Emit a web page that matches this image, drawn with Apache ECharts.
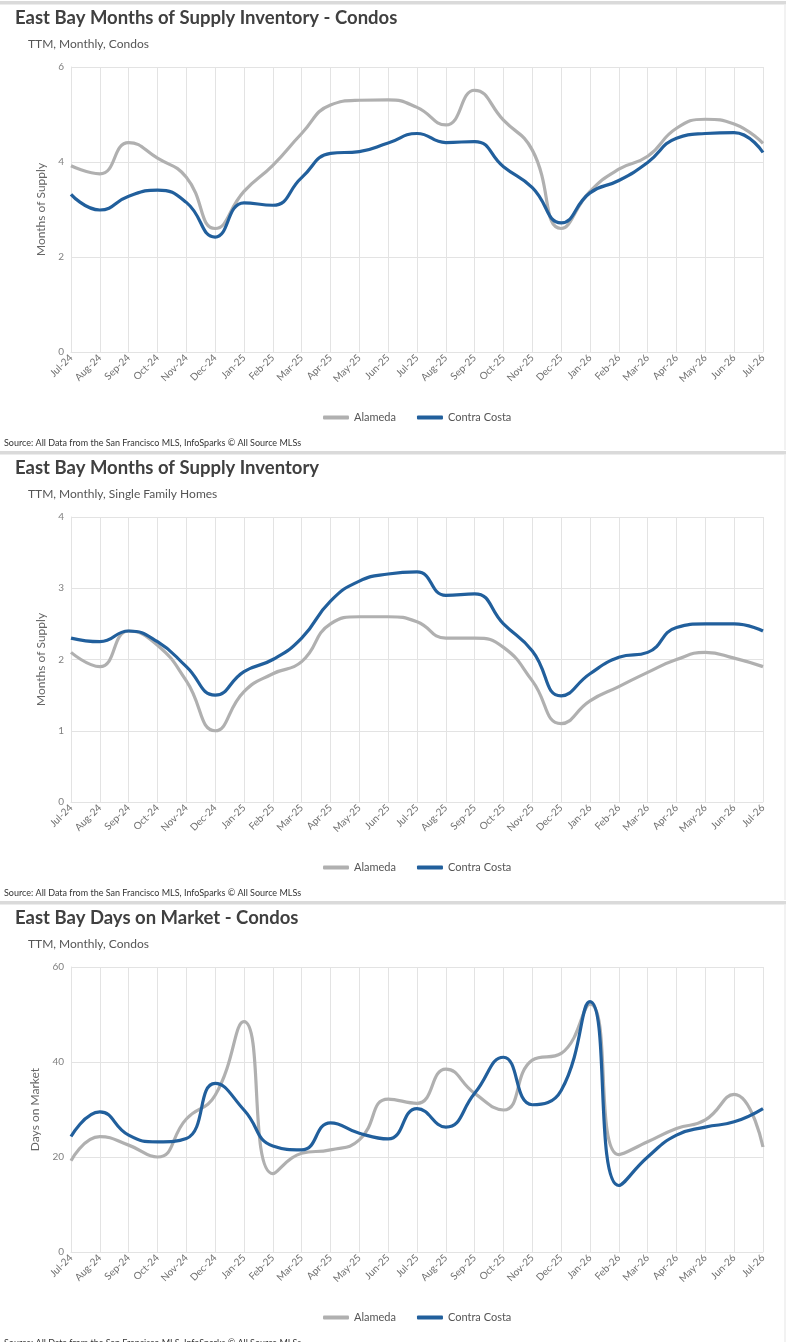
<!DOCTYPE html>
<html>
<head>
<meta charset="utf-8">
<script src="https://cdn.jsdelivr.net/npm/echarts@6/dist/echarts.min.js"></script>
<style>
  html, body { margin: 0; padding: 0; background: #fff; width: 786px; height: 1342px; overflow: hidden; }
  .panel { position: absolute; left: 0; width: 786px; height: 450px; }
</style>
</head>
<body>
<div id="c1" class="panel" style="top:0px"></div>
<div id="c2" class="panel" style="top:450px"></div>
<div id="c3" class="panel" style="top:900px"></div>
<script>
// ---- Data ----
const months = ['Jul-24','Aug-24','Sep-24','Oct-24','Nov-24','Dec-24','Jan-25','Feb-25','Mar-25','Apr-25','May-25','Jun-25','Jul-25','Aug-25','Sep-25','Oct-25','Nov-25','Dec-25','Jan-26','Feb-26','Mar-26','Apr-26','May-26','Jun-26','Jul-26'];
const seriesNames = ['Alameda', 'Contra Costa'];

const condoSupplyAlameda = [3.92, 3.75, 4.41, 4.08, 3.68, 2.6, 3.38, 3.93, 4.6, 5.2, 5.3, 5.31, 5.15, 4.78, 5.51, 4.88, 4.25, 2.6, 3.38, 3.85, 4.12, 4.71, 4.9, 4.8, 4.39];
const condoSupplyContraCosta = [3.32, 2.99, 3.28, 3.41, 3.15, 2.42, 3.14, 3.09, 3.67, 4.18, 4.22, 4.4, 4.6, 4.41, 4.43, 3.9, 3.46, 2.72, 3.35, 3.61, 3.99, 4.5, 4.6, 4.62, 4.2];

const sfhSupplyAlameda = [2.1, 1.9, 2.4, 2.2, 1.7, 1.0, 1.55, 1.8, 1.97, 2.5, 2.6, 2.6, 2.53, 2.3, 2.3, 2.17, 1.7, 1.1, 1.42, 1.62, 1.82, 2.0, 2.1, 2.02, 1.9];
const sfhSupplyContraCosta = [2.3, 2.25, 2.4, 2.25, 1.9, 1.5, 1.83, 2.0, 2.3, 2.82, 3.1, 3.2, 3.23, 2.9, 2.92, 2.5, 2.12, 1.49, 1.8, 2.03, 2.1, 2.45, 2.5, 2.5, 2.4];

const condoDomAlameda = [19.2, 24.3, 22.5, 20, 28, 33, 48.5, 16.5, 20.8, 21.5, 23.6, 32.2, 31.3, 38.5, 33.4, 29.9, 40.4, 41.8, 52.2, 20.5, 23.2, 26, 27.8, 33.2, 22.1];
const condoDomContraCosta = [24.3, 29.5, 24.6, 23.2, 23.9, 35.5, 29.9, 22.3, 21.5, 27.2, 25, 23.8, 30.2, 26.3, 33.4, 41, 31, 34, 52.7, 14, 20, 24.6, 26.3, 27.4, 30.2];

const titles = ['East Bay Months of Supply Inventory - Condos', 'East Bay Months of Supply Inventory', 'East Bay Days on Market - Condos'];
const subtitles = ['TTM, Monthly, Condos', 'TTM, Monthly, Single Family Homes', 'TTM, Monthly, Condos'];
const yNames = ['Months of Supply', 'Months of Supply', 'Days on Market'];
const yMax = [6, 4, 60];
const yInterval = [2, 1, 20];
const sourceText = 'Source: All Data from the San Francisco MLS, InfoSparks \u00A9 All Source MLSs';

// ---- Style ----
const FONT = 'Lato, "Open Sans", sans-serif';
const GRAY = '#b0b0b0';
const BLUE = '#215f9c';
const GRID = '#e3e3e3';

function build(idx, a, c) {
  return {
    animation: false,
    textStyle: { fontFamily: FONT },
    graphic: [
      { type: 'rect', left: 0, top: 1, shape: { width: 786, height: 3.5 }, style: { fill: '#dadada' } },
      { type: 'rect', left: 784, top: 5, shape: { width: 2, height: 445 }, style: { fill: '#f2f2f2' } },
      { type: 'text', left: 4, top: 439, style: { text: sourceText, fill: '#333', font: '9px ' + FONT } }
    ],
    title: [
      { text: titles[idx], left: 10, top: 4, textStyle: { fontSize: 18.5, fontWeight: 'bold', color: '#404040', fontFamily: FONT } },
      { text: subtitles[idx], left: 23, top: 33, textStyle: { fontSize: 12, fontWeight: 'normal', color: '#555', fontFamily: FONT } }
    ],
    legend: {
      data: seriesNames,
      left: 318, top: 407,
      itemWidth: 26, itemHeight: 4, itemGap: 21,
      icon: 'roundRect',
      textStyle: { fontSize: 11, color: '#555', fontFamily: FONT }
    },
    grid: { left: 71, right: 23, top: 67, height: 285 },
    xAxis: {
      type: 'category',
      data: months,
      boundaryGap: false,
      axisLine: { show: true, lineStyle: { color: GRID } },
      axisTick: { show: false },
      splitLine: { show: true, lineStyle: { color: GRID, width: 1 } },
      axisLabel: { rotate: 45, fontSize: 10, color: '#707070', margin: 4, interval: 0, fontFamily: FONT }
    },
    yAxis: {
      type: 'value',
      min: 0, max: yMax[idx], interval: yInterval[idx],
      name: yNames[idx], nameLocation: 'middle', nameGap: 18,
      nameTextStyle: { fontSize: 12, color: '#666', fontFamily: FONT },
      axisLine: { show: true, lineStyle: { color: GRID } },
      axisTick: { show: false },
      splitLine: { show: true, lineStyle: { color: GRID, width: 1 } },
      axisLabel: { fontSize: 10, color: '#808080', margin: 7, fontFamily: FONT }
    },
    series: [
      { name: seriesNames[0], type: 'line', data: a, smooth: 0.5, showSymbol: false, symbol: 'none',
        lineStyle: { color: GRAY, width: 3.2 }, itemStyle: { color: GRAY } },
      { name: seriesNames[1], type: 'line', data: c, smooth: 0.5, showSymbol: false, symbol: 'none',
        lineStyle: { color: BLUE, width: 3.2 }, itemStyle: { color: BLUE } }
    ]
  };
}

const pairs = [
  [condoSupplyAlameda, condoSupplyContraCosta],
  [sfhSupplyAlameda, sfhSupplyContraCosta],
  [condoDomAlameda, condoDomContraCosta]
];
['c1', 'c2', 'c3'].forEach((id, i) => {
  const chart = echarts.init(document.getElementById(id), null, { renderer: 'canvas' });
  chart.setOption(build(i, pairs[i][0], pairs[i][1]));
});
</script>
</body>
</html>
